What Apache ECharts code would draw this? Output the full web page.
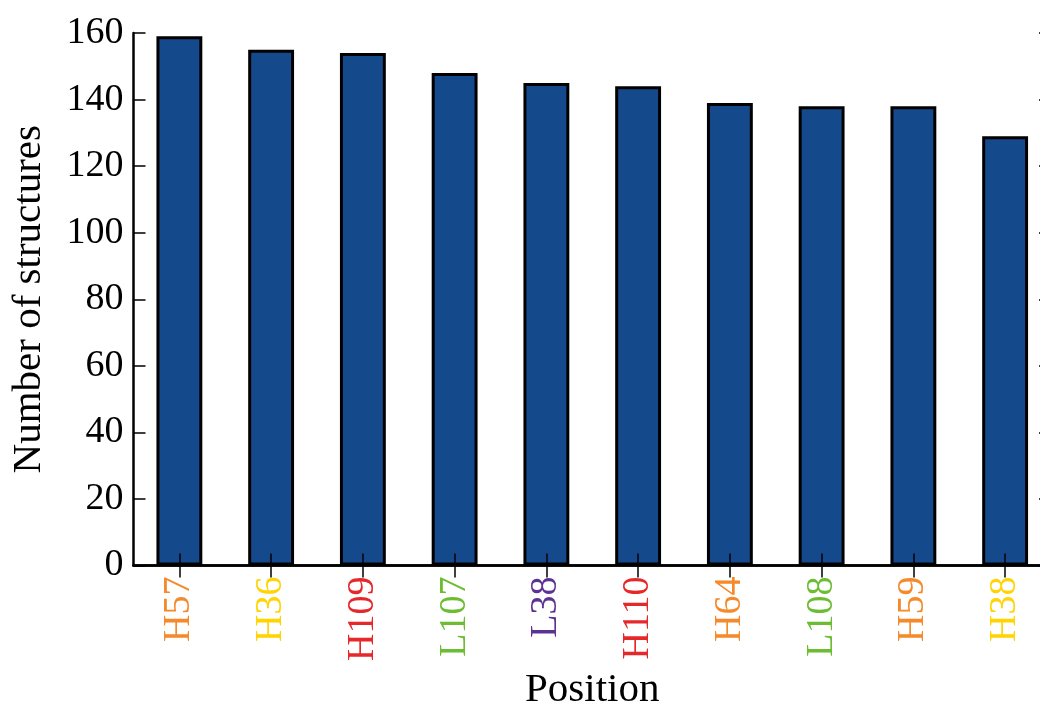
<!DOCTYPE html>
<html>
<head>
<meta charset="utf-8">
<script src="https://cdn.jsdelivr.net/npm/echarts@6/dist/echarts.min.js"></script>
<style>
  html, body { margin: 0; padding: 0; background: #fff; }
  #chart { width: 1040px; height: 709px; }
</style>
</head>
<body>
<div id="chart"></div>
<script>
// Residue positions, ordered by how many structures contain them
const positions = ['H57', 'H36', 'H109', 'L107', 'L38', 'H110', 'H64', 'L108', 'H59', 'H38'];
const structureCounts = [159, 155, 154, 148, 145, 144, 139, 138, 138, 129];
// Label colour for each position
const labelColors = ['#f58a2c', '#ffd400', '#e5292a', '#6cbd32', '#5c3393',
                     '#e5292a', '#f58a2c', '#6cbd32', '#f58a2c', '#ffd400'];
const yTicks = { min: 0, max: 160, step: 20 };

const FONT = '"Liberation Serif", "Times New Roman", serif';
const INK = '#000';
const TICK_SIZE = 38;
const TITLE_SIZE = 41;

const chart = echarts.init(document.getElementById('chart'), null, { renderer: 'canvas' });

const categoryData = positions.map((p, i) => ({
  value: p,
  textStyle: { color: labelColors[i] }
}));

const axisLineStyle = { show: true, lineStyle: { color: INK, width: 2.5 } };
const inwardTicks = { show: true, inside: true, length: 12, lineStyle: { color: INK, width: 1.5 } };

chart.setOption({
  animation: false,
  backgroundColor: '#fff',
  grid: {
    left: 133.5, right: -11, top: 33, bottom: 143.5,
    containLabel: false,
    outerBoundsMode: 'none'
  },
  xAxis: [
    {
      type: 'category',
      position: 'bottom',
      z: 5,
      data: categoryData,
      boundaryGap: true,
      axisLine: axisLineStyle,
      axisTick: Object.assign({ alignWithLabel: true }, inwardTicks),
      axisLabel: { rotate: 90, margin: 11, fontFamily: FONT, fontSize: TICK_SIZE, interval: 0 },
      splitLine: { show: false },
      name: 'Position',
      nameLocation: 'middle',
      nameMoveOverlap: false,
      nameGap: 104,
      nameTextStyle: { fontFamily: FONT, fontSize: TITLE_SIZE, color: INK }
    },
    {
      type: 'category',
      position: 'top',
      z: 5,
      data: positions,
      boundaryGap: true,
      axisLine: axisLineStyle,
      axisTick: Object.assign({ alignWithLabel: true }, inwardTicks),
      axisLabel: { show: false },
      splitLine: { show: false }
    }
  ],
  yAxis: [
    {
      type: 'value',
      position: 'left',
      z: 5,
      min: yTicks.min,
      max: yTicks.max,
      interval: yTicks.step,
      axisLine: axisLineStyle,
      axisTick: inwardTicks,
      axisLabel: { color: INK, fontFamily: FONT, fontSize: TICK_SIZE, margin: 10 },
      splitLine: { show: false },
      name: 'Number of structures',
      nameLocation: 'middle',
      nameRotate: 90,
      nameMoveOverlap: false,
      nameGap: 84,
      nameTextStyle: { fontFamily: FONT, fontSize: TITLE_SIZE, color: INK }
    },
    {
      type: 'value',
      position: 'right',
      z: 5,
      min: yTicks.min,
      max: yTicks.max,
      interval: yTicks.step,
      axisLine: axisLineStyle,
      axisTick: inwardTicks,
      axisLabel: { show: false },
      splitLine: { show: false }
    }
  ],
  series: [
    {
      type: 'bar',
      data: structureCounts,
      barWidth: '50%',
      itemStyle: { color: '#144a8c', borderColor: INK, borderWidth: 3 },
      z: 1
    }
  ]
});
</script>
</body>
</html>
